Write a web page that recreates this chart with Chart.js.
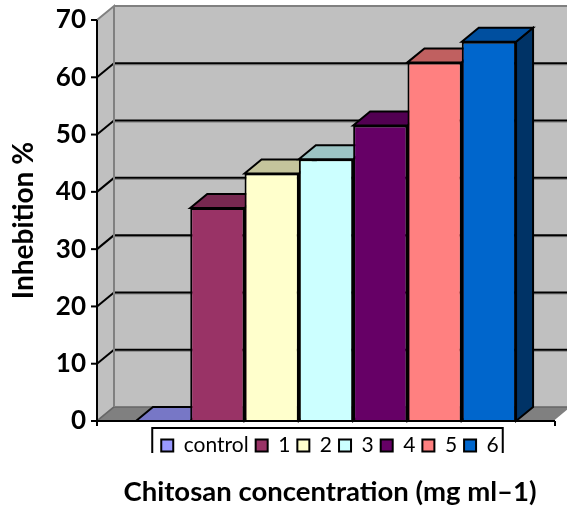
<!DOCTYPE html>
<html>
<head>
<meta charset="utf-8">
<style>
  html, body { margin: 0; padding: 0; background: #fff; overflow: hidden; }
  canvas { display: block; }
</style>
<script src="https://cdn.jsdelivr.net/npm/chart.js@4"></script>
</head>
<body>
<canvas id="chart" width="567" height="512"></canvas>
<script>
// valores
const categories = [''];
const seriesNames = ['control', '1', '2', '3', '4', '5', '6'];
const seriesValues = [0, 37.2, 43.2, 45.7, 51.6, 62.6, 66.2];
const frontColors = ['#9999ff', '#993366', '#ffffcc', '#ccffff', '#660066', '#ff8080', '#0066cc'];
const topColors = ['#7777c6', '#772850', '#c4c49c', '#9cc4c4', '#520052', '#c06060', '#004f9f'];
const sideColors = ['#5c5c99', '#5c1f3d', '#99997a', '#7a9999', '#3d003d', '#994d4d', '#003366'];
const yTicks = [0, 10, 20, 30, 40, 50, 60, 70];

// profundidade do efeito 3D
const DX = 17;
const DY = 14;
// legenda e titulo ficam um pouco a direita do centro
const SHIFT = 4;

function poly(ctx, pts, fill, stroke, lw) {
  ctx.beginPath();
  pts.forEach((p, i) => i ? ctx.lineTo(p[0], p[1]) : ctx.moveTo(p[0], p[1]));
  ctx.closePath();
  if (fill) { ctx.fillStyle = fill; ctx.fill(); }
  if (stroke) { ctx.strokeStyle = stroke; ctx.lineWidth = lw; ctx.stroke(); }
}

function line(ctx, x1, y1, x2, y2, color, lw) {
  ctx.beginPath();
  ctx.moveTo(x1, y1);
  ctx.lineTo(x2, y2);
  ctx.strokeStyle = color;
  ctx.lineWidth = lw;
  ctx.stroke();
}

const walls3d = {
  id: 'walls3d',
  afterLayout(chart) {
    [chart.legend, chart.titleBlock].forEach(box => {
      box.left += SHIFT;
      box.right += SHIFT;
    });
  },
  beforeDatasetsDraw(chart) {
    const { ctx, chartArea: a, scales: { y } } = chart;
    ctx.save();
    // parede do fundo, parede lateral e chao
    poly(ctx, [[a.left + DX, a.top - DY], [a.right + DX, a.top - DY], [a.right + DX, a.bottom - DY], [a.left + DX, a.bottom - DY]], '#c0c0c0');
    poly(ctx, [[a.left, a.top], [a.left + DX, a.top - DY], [a.left + DX, a.bottom - DY], [a.left, a.bottom]], '#c0c0c0', '#808080', 2);
    yTicks.forEach(t => {
      const py = y.getPixelForValue(t);
      if (t > 0 && t < 70) {
        line(ctx, a.left + DX, py - DY + 1.5, a.right + DX, py - DY + 1.5, '#808080', 1);
        line(ctx, a.left + DX, py - DY, a.right + DX, py - DY, '#000', 2);
        line(ctx, a.left, py, a.left + DX, py - DY, '#000', 2);
      }
    });
    line(ctx, a.left + DX, a.top - DY, a.right + DX, a.top - DY, '#808080', 2);
    poly(ctx, [[a.left, a.bottom], [a.left + DX, a.bottom - DY], [a.right + DX, a.bottom - DY], [a.right, a.bottom]], '#808080');
    line(ctx, a.left + DX, a.bottom - DY, a.right + DX, a.bottom - DY, '#666', 1.5);
    line(ctx, a.left + DX, a.top - DY, a.left + DX, a.bottom - DY, '#808080', 2);
    line(ctx, a.left, a.bottom, a.left + DX, a.bottom - DY, '#666', 1.5);
    line(ctx, a.right, a.bottom, a.right + DX, a.bottom - DY, '#fff', 2);
    // topo e lado das barras
    chart.data.datasets.forEach((ds, i) => {
      const bar = chart.getDatasetMeta(i).data[0];
      const l = bar.x - bar.width / 2;
      const r = bar.x + bar.width / 2;
      poly(ctx, [[r, bar.y], [r + DX, bar.y - DY], [r + DX, bar.base - DY], [r, bar.base]], sideColors[i], '#000', 2);
      poly(ctx, [[l, bar.y], [l + DX, bar.y - DY], [r + DX, bar.y - DY], [r, bar.y]], topColors[i], '#000', 2);
    });
    ctx.restore();
  },
  afterDatasetsDraw(chart) {
    const { ctx, chartArea: a, scales: { y } } = chart;
    ctx.save();
    // eixos da frente
    line(ctx, a.left, a.top, a.left, a.bottom, '#000', 2);
    line(ctx, a.left - 6, a.bottom, a.right, a.bottom, '#000', 2);
    yTicks.forEach(t => {
      const py = y.getPixelForValue(t);
      line(ctx, a.left - 6, py, a.left, py, '#000', 2);
    });
    line(ctx, a.left, a.bottom, a.left, a.bottom + 5, '#000', 2);
    line(ctx, a.right, a.bottom, a.right, a.bottom + 5, '#000', 2);
    ctx.restore();
  },
  afterDraw(chart) {
    const { ctx, legend } = chart;
    ctx.save();
    // caixa da legenda, cortada embaixo como no original
    const boxes = legend.legendHitBoxes;
    const first = boxes[0];
    const last = boxes[boxes.length - 1];
    const l = first.left + SHIFT - 13, r = last.left + SHIFT + last.width, t = legend.top;
    ctx.fillStyle = '#fff';
    ctx.fillRect(l - 2, t + 25, r - l + 4, 18);
    ctx.beginPath();
    ctx.moveTo(l, t + 25);
    ctx.lineTo(l, t);
    ctx.lineTo(r, t);
    ctx.lineTo(r, t + 25);
    ctx.strokeStyle = '#000';
    ctx.lineWidth = 2;
    ctx.stroke();
    ctx.restore();
  }
};

const chart = new Chart(document.getElementById('chart'), {
  type: 'bar',
  data: {
    labels: categories,
    datasets: seriesNames.map((name, i) => ({
      label: name,
      data: [seriesValues[i]],
      backgroundColor: frontColors[i],
      borderColor: '#000',
      borderWidth: 2,
      barPercentage: 1,
      categoryPercentage: 0.83
    }))
  },
  options: {
    responsive: false,
    animation: false,
    layout: { padding: { top: 20, right: 12, left: 0, bottom: 3 } },
    scales: {
      x: {
        grid: { display: false },
        border: { display: false },
        ticks: { display: false },
        afterFit(scale) { scale.height = 7; }
      },
      y: {
        min: 0,
        max: 70,
        afterBuildTicks(scale) { scale.ticks = yTicks.map(value => ({ value })); },
        grid: { display: false },
        border: { display: false },
        ticks: {
          color: '#000',
          padding: 3,
          font: { family: 'Lato', size: 26, weight: 'bold' }
        },
        title: {
          display: true,
          text: 'Inhebition %',
          color: '#000',
          padding: { top: 7, bottom: 0 },
          font: { family: 'Lato', size: 28, weight: 'bold' }
        },
        afterFit(scale) { scale.width = 97; }
      }
    },
    plugins: {
      tooltip: { enabled: false },
      legend: {
        position: 'bottom',
        fullSize: false,
        labels: {
          boxWidth: 12,
          boxHeight: 12,
          padding: 7,
          color: '#000',
          font: { family: 'Lato', size: 21 }
        }
      },
      title: {
        display: true,
        position: 'bottom',
        fullSize: false,
        text: 'Chitosan concentration (mg ml\u20131)',
        color: '#000',
        padding: { top: 10, bottom: 0 },
        font: { family: 'Lato', size: 27.5, weight: 'bold' }
      }
    }
  },
  plugins: [walls3d]
});
</script>
</body>
</html>
